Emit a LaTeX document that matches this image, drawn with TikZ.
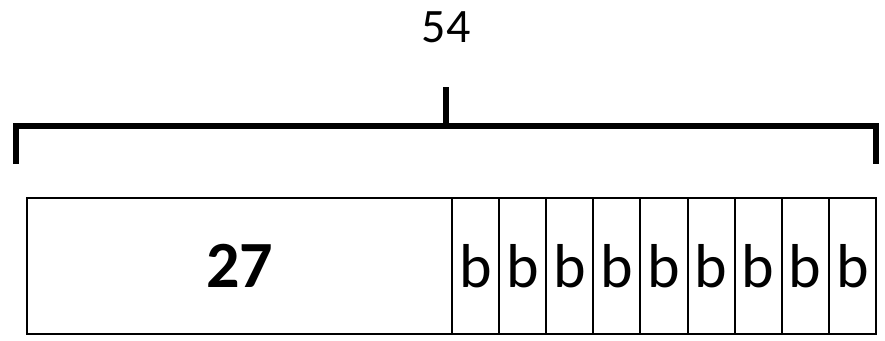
\documentclass[tikz,border=0pt]{standalone}
\usepackage{fontspec}
\setmainfont{Carlito}
\begin{document}
\begin{tikzpicture}[x=1pt,y=-1pt,
  bar/.style={draw=black,line width=2pt,inner sep=0pt,minimum height=136pt,anchor=north west},
  cell/.style={bar,minimum width=47.1pt,font=\fontsize{62}{70}\selectfont},
  brace/.style={line width=6pt,line join=miter,line cap=butt}]
\useasboundingbox (0,0) rectangle (885,340);
% total length label
\node[font=\fontsize{48}{56}\selectfont] (total) at (446.3,27) {54};
% bracket spanning the whole bar
\coordinate (bl) at (16.3,164);
\coordinate (tl) at (16.3,125.7);
\coordinate (tr) at (875.5,125.7);
\coordinate (br) at (875.5,164);
\coordinate (mid) at (446.3,125.7);
\coordinate (tick) at (446.3,87);
\draw[brace] (bl) -- (tl) -- (tr) -- (br);
\draw[brace] (mid) -- (tick);
% bar: known part and nine equal parts
\node[bar,minimum width=425pt,font=\bfseries\fontsize{66}{74}\selectfont] (known) at (26,197) {27};
\foreach \i in {0,...,8}{
  \node[cell] (b\i) at ({451+47.1*\i},197) {b};
}
\end{tikzpicture}
\end{document}
